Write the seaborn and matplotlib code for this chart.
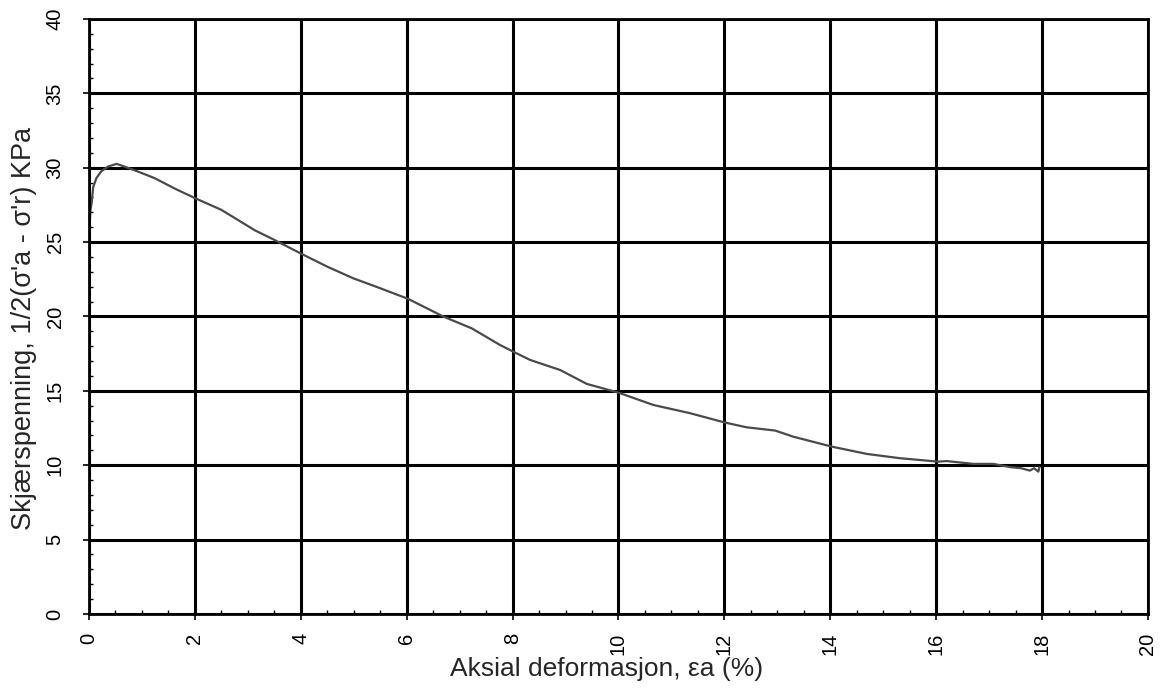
import matplotlib
matplotlib.use("Agg")
import matplotlib.pyplot as plt
from matplotlib.ticker import MultipleLocator
import seaborn as sns
import pandas as pd

# Axial strain (%) and shear stress (kPa) from the triaxial test
strain = [0.02, 0.03, 0.05, 0.08, 0.14, 0.23, 0.36, 0.52, 0.67, 0.92, 1.24, 1.62,
          2.0, 2.5, 3.13, 3.5, 4.02, 4.5, 4.99, 5.5, 6.03, 6.69, 7.23, 7.76,
          8.01, 8.33, 8.9, 9.4, 10.0, 10.66, 11.35, 12.01, 12.42, 12.96, 13.3,
          14.03, 14.69, 15.32, 16.04, 16.2, 16.7, 17.08, 17.4, 17.6, 17.77,
          17.85, 17.93, 17.95]
stress = [26.6, 27.2, 27.6, 28.7, 29.3, 29.75, 30.08, 30.26, 30.08, 29.75, 29.3, 28.6,
          27.96, 27.17, 25.8, 25.15, 24.2, 23.35, 22.57, 21.9, 21.18, 20.0, 19.2, 18.09,
          17.64, 17.08, 16.4, 15.47, 14.88, 14.05, 13.5, 12.87, 12.55, 12.33, 11.92,
          11.25, 10.76, 10.47, 10.24, 10.28, 10.09, 10.09, 9.87, 9.8, 9.64,
          9.8, 9.57, 9.87]

x_ticks = [0, 2, 4, 6, 8, 10, 12, 14, 16, 18, 20]
y_ticks = [0, 5, 10, 15, 20, 25, 30, 35, 40]

sns.set_style("white")
plt.rcParams["font.family"] = ["Liberation Sans", "DejaVu Sans"]

df = pd.DataFrame({"strain": strain, "stress": stress})

fig = plt.figure(figsize=(11.69, 6.88), dpi=100)
ax = fig.add_axes([0.0761, 0.1076, 0.9059, 0.8648])

ax.grid(True, which="major", color="black", linewidth=2.2)
ax.set_axisbelow(True)

sns.lineplot(data=df, x="strain", y="stress", sort=False, ax=ax,
             color="#4a4a4a", linewidth=1.6)

ax.set_xlim(0, 20)
ax.set_ylim(0, 40)
ax.set_xticks(x_ticks)
ax.set_yticks(y_ticks)
ax.xaxis.set_minor_locator(MultipleLocator(0.5))
ax.yaxis.set_minor_locator(MultipleLocator(1))

ax.tick_params(axis="both", which="major", direction="out", length=4.5, width=1.2,
               colors="black", labelsize=14.5, bottom=True, left=True)
ax.tick_params(axis="x", which="major", pad=9)
ax.tick_params(axis="y", which="major", pad=13)
ax.tick_params(axis="both", which="minor", direction="in", length=3, width=1.0,
               colors="black", bottom=True, left=True)
for lbl in ax.get_xticklabels() + ax.get_yticklabels():
    lbl.set_rotation(90)
for lbl in ax.get_yticklabels():
    lbl.set_va("center")

for s in ax.spines.values():
    s.set_color("black")
    s.set_linewidth(2.0)

ax.set_xlabel("Aksial deformasjon, \u03b5a (%)", fontsize=19)
ax.set_ylabel("Skj\u00e6rspenning, 1/2(\u03c3'a - \u03c3'r) KPa", fontsize=19.5)
ax.xaxis.set_label_coords(0.489, -0.072)
ax.yaxis.set_label_coords(-0.049, 0.48)

fig.savefig("out.png", dpi=100, facecolor="white")
